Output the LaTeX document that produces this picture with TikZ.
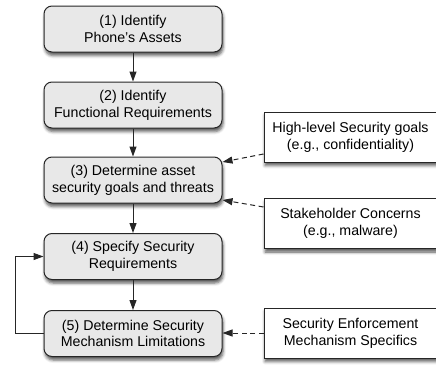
\documentclass[tikz,border=0pt]{standalone}
\usepackage{fontspec}
\setmainfont{Liberation Sans}
\usetikzlibrary{arrows.meta,shadows.blur}
\begin{document}
\begin{tikzpicture}[x=1pt,y=-1pt,
  shad/.style={blur shadow={shadow xshift=1pt, shadow yshift=-3.5pt, shadow blur radius=3pt, shadow opacity=65}},
  stepbox/.style={draw=black!85, line width=1pt, rounded corners=8pt, fill=black!9,
    minimum width=178pt, minimum height=46pt, align=center, inner sep=0pt,
    font=\fontsize{14.2}{16.7}\selectfont, shad},
  infobox/.style={draw=black!85, line width=1pt, fill=white,
    minimum width=173pt, minimum height=50pt, align=center, inner sep=0pt,
    font=\fontsize{14.2}{16.7}\selectfont, shad},
  flow/.style={-{Triangle[length=10pt,width=7pt]}, line width=1pt, draw=black!85},
  dflow/.style={flow, dash pattern=on 5pt off 3.5pt}
]
\useasboundingbox (0,0) rectangle (436,364);
\node[stepbox] (s1) at (133,29) {(1) Identify\\Phone's Assets};
\node[stepbox] (s2) at (133,105) {(2) Identify\\Functional Requirements};
\node[stepbox] (s3) at (133,180) {(3) Determine asset\\security goals and threats};
\node[stepbox] (s4) at (133,256.5) {(4) Specify Security\\Requirements};
\node[stepbox] (s5) at (133,333.5) {(5) Determine Security\\Mechanism Limitations};
\node[infobox] (a) at (350.5,137) {High-level Security goals\\(e.g., confidentiality)};
\node[infobox] (b) at (350.5,223.5) {Stakeholder Concerns\\(e.g., malware)};
\node[infobox] (c) at (350.5,333) {Security Enforcement\\Mechanism Specifics};
\draw[flow] (s1) -- (s2);
\draw[flow] (s2) -- (s3);
\draw[flow] (s3) -- (s4);
\draw[flow] (s4) -- (s5);
\draw[dflow] (a.west |- 0,154) -- (s3.east |- 0,162);
\draw[dflow] (b.west |- 0,207) -- (s3.east |- 0,200);
\draw[dflow] (c.west) -- (s5.east |- c.west);
\coordinate (lb) at (15,333.5);
\coordinate (lt) at (15,256.5);
\draw[flow] (s5.west) -- (lb) -- (lt) -- (s4.west);
\end{tikzpicture}
\end{document}
